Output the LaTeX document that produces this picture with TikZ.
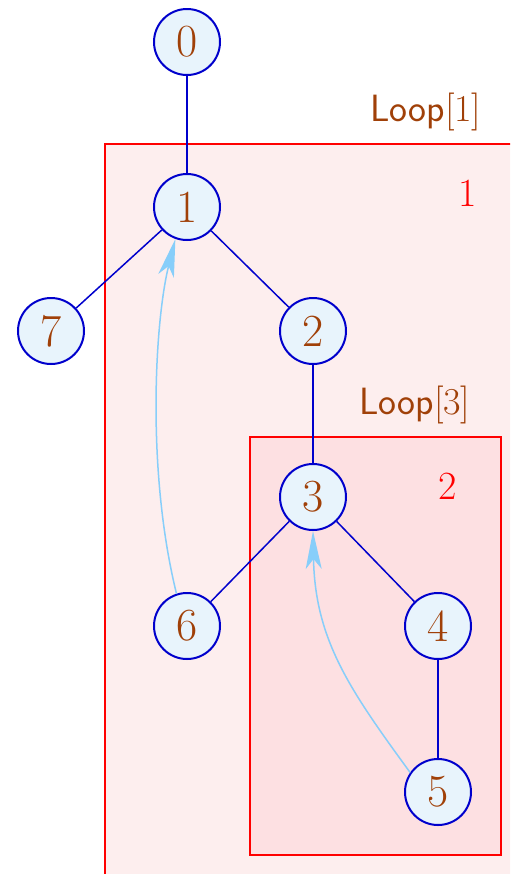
\documentclass[tikz,border=0pt]{standalone}
\usetikzlibrary{arrows.meta}
\definecolor{nodetext}{RGB}{160,64,8}
\definecolor{nodefill}{RGB}{232,244,252}
\definecolor{nodeline}{RGB}{0,0,204}
\definecolor{backarc}{RGB}{135,206,250}
\definecolor{outerfill}{RGB}{253,238,238}
\definecolor{innerfill}{RGB}{253,224,226}
\tikzset{
  vertex/.style={circle, draw=nodeline, fill=nodefill, line width=1pt,
    minimum size=33pt, inner sep=0pt, text=nodetext,
    font=\fontsize{23}{28}\selectfont},
  treeedge/.style={draw=nodeline, line width=0.75pt},
  backedge/.style={draw=backarc, line width=0.75pt,
    -{Stealth[length=19pt,width=8pt,inset=5pt]}},
  loopbox/.style={draw=red, line width=1pt},
  looplabel/.style={text=nodetext, font=\fontsize{19}{23}\selectfont},
  loopnum/.style={text=red, font=\fontsize{20}{24}\selectfont}
}
\begin{document}
\begin{tikzpicture}[x=0.5pt,y=-0.5pt]
  \useasboundingbox (0,0) rectangle (510,874);
  \clip (0,0) rectangle (510,874);
  % loop regions
  \draw[loopbox, fill=outerfill] (105,144) rectangle (530,900);
  \draw[loopbox, fill=innerfill] (250,437) rectangle (501,855);
  \node[looplabel] (lab1) at (426,112) {\textsf{Loop}[1]};
  \node[loopnum] (num1) at (468,193) {1};
  \node[looplabel] (lab3) at (415,405) {\textsf{Loop}[3]};
  \node[loopnum] (num2) at (448,486) {2};
  % vertices
  \node[vertex] (n0) at (187,42) {0};
  \node[vertex] (n1) at (187,207) {1};
  \node[vertex] (n7) at (51,331) {7};
  \node[vertex] (n2) at (313,331) {2};
  \node[vertex] (n3) at (313,497) {3};
  \node[vertex] (n6) at (187,626) {6};
  \node[vertex] (n4) at (438,626) {4};
  \node[vertex] (n5) at (438,792) {5};
  % tree edges
  \draw[treeedge] (n0) -- (n1);
  \draw[treeedge] (n1) -- (n7);
  \draw[treeedge] (n1) -- (n2);
  \draw[treeedge] (n2) -- (n3);
  \draw[treeedge] (n3) -- (n6);
  \draw[treeedge] (n3) -- (n4);
  \draw[treeedge] (n4) -- (n5);
  % back edges
  \draw[backedge] (n6.108) .. controls (146,470) and (155,320) .. (n1.250);
  \draw[backedge] (n5.145) .. controls (350,690) and (315,640) .. (n3.south);
\end{tikzpicture}
\end{document}
